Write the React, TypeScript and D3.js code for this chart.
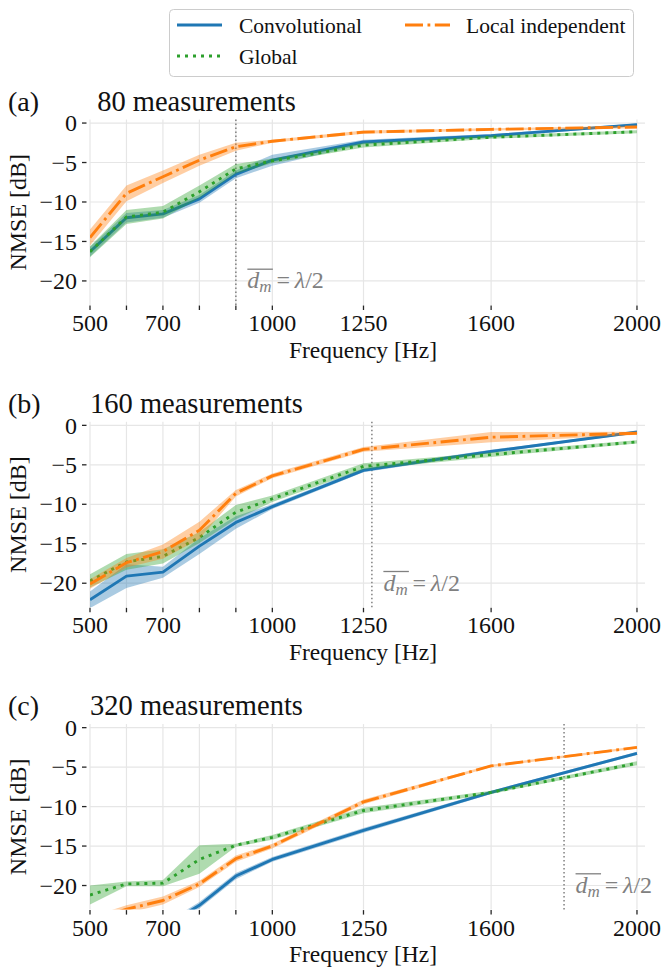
import React from "react";
import * as d3 from "d3";

const freqs = [500, 600, 700, 800, 900, 1000, 1250, 1600, 2000];
const xTickLabels = [500, 700, 1000, 1250, 1600, 2000];
const xMinorTicks = [600, 800, 900];
const yTicks = [0, -5, -10, -15, -20];
const panelLetters = ["(a)", "(b)", "(c)"];
const panelTitles = ["\u00a080 measurements", "160 measurements", "320 measurements"];
const halfWavelengthFreq = [900, 1273, 1800];

// Panel (a) 80 measurements
const convA = [-16.3, -12.0, -11.5, -9.6, -6.5, -4.7, -2.4, -1.6, -0.2];
const convAStd = [0.6, 0.6, 0.5, 0.5, 0.5, 0.7, 0.3, 0.2, 0.15];
const globA = [-16.3, -11.9, -11.3, -8.7, -5.8, -4.8, -2.8, -1.8, -1.1];
const globAStd = [0.7, 0.9, 0.8, 0.8, 0.6, 0.3, 0.3, 0.2, 0.2];
const localA = [-14.5, -8.9, -6.8, -4.7, -3.0, -2.3, -1.15, -0.8, -0.5];
const localAStd = [1.0, 1.0, 0.8, 0.7, 0.5, 0.2, 0.2, 0.15, 0.15];

// Panel (b) 160 measurements
const convB = [-22.1, -19.1, -18.6, -15.3, -12.3, -10.3, -5.7, -3.3, -0.85];
const convBStd = [1.05, 1.5, 0.7, 1.0, 0.8, 0.3, 0.25, 0.2, 0.15];
const globB = [-19.7, -17.3, -16.6, -14.2, -11.0, -9.3, -5.2, -3.7, -2.1];
const globBStd = [0.85, 1.0, 0.9, 0.7, 0.9, 0.4, 0.4, 0.3, 0.2];
const localB = [-20.1, -17.4, -16.0, -13.3, -8.6, -6.4, -3.05, -1.5, -1.0];
const localBStd = [0.6, 0.6, 0.9, 1.1, 0.4, 0.3, 0.3, 0.65, 0.2];

// Panel (c) 320 measurements
const convC = [-28.5, -27.0, -25.3, -22.5, -18.8, -16.7, -13.0, -8.2, -3.25];
const convCStd = [0.4, 0.4, 0.4, 0.4, 0.4, 0.3, 0.3, 0.2, 0.2];
const globC = [-21.2, -19.8, -19.7, -16.7, -14.9, -13.9, -10.5, -8.2, -4.5];
const globCStd = [1.2, 0.3, 0.4, 1.8, 0.2, 0.3, 0.35, 0.2, 0.25];
const localC = [-24.5, -23.0, -21.9, -19.8, -16.6, -15.0, -9.4, -4.85, -2.5];
const localCStd = [0.5, 0.5, 0.5, 0.4, 0.4, 0.3, 0.3, 0.15, 0.15];

const seriesNames = ["Convolutional", "Global", "Local independent"];
const seriesColors = ["#1f77b4", "#2ca02c", "#ff7f0e"];
const seriesDash = ["none", "3 5", "18 4.5 2.8 4.5"];

const panels = [
  [[convA, convAStd], [globA, globAStd], [localA, localAStd]],
  [[convB, convBStd], [globB, globBStd], [localB, localBStd]],
  [[convC, convCStd], [globC, globCStd], [localC, localCStd]],
];

const FONT = "'Liberation Serif', 'Times New Roman', Times, serif";
const LEFT = 90;
const RIGHT = 645;
const AX_H = 185.5;
const TOPS = [119.5, 421.8, 724.1];

const x = d3.scaleLinear().domain([500, 2022]).range([LEFT, RIGHT]);

function Panel({ idx }: { idx: number }) {
  const top = TOPS[idx];
  const bottom = top + AX_H;
  const y = d3.scaleLinear().domain([-23.05, 0.45]).range([bottom, top]);
  const line = d3
    .line<number>()
    .x((_, i) => x(freqs[i]))
    .y((d) => y(d));
  const area = (m: number[], s: number[]) =>
    d3
      .area<number>()
      .x((_, i) => x(freqs[i]))
      .y0((d, i) => y(d - s[i]))
      .y1((d, i) => y(d + s[i]))(m) as string;
  const clipId = `clip${idx}`;
  const dm = halfWavelengthFreq[idx];
  const annX = x(dm) + 11.5;
  const annY = top + 168.7;
  return (
    <g>
      <defs>
        <clipPath id={clipId}>
          <rect x={LEFT} y={top} width={RIGHT - LEFT} height={AX_H} />
        </clipPath>
      </defs>
      {/* grid */}
      {yTicks.map((t) => (
        <line key={"gy" + t} x1={LEFT} x2={RIGHT} y1={y(t)} y2={y(t)} stroke="#e6e6e6" strokeWidth={1.2} />
      ))}
      {freqs.map((f) => (
        <line key={"gx" + f} x1={x(f)} x2={x(f)} y1={top} y2={bottom} stroke="#e6e6e6" strokeWidth={1.2} />
      ))}
      {/* y ticks */}
      {yTicks.map((t) => (
        <g key={"yt" + t}>
          <line x1={82} x2={86.5} y1={y(t)} y2={y(t)} stroke="#262626" strokeWidth={1.3} />
          <text x={77} y={y(t)} dy="0.34em" textAnchor="end" fontSize={24} fontFamily={FONT} fill="#111">
            {t === 0 ? "0" : "\u2212" + Math.abs(t)}
          </text>
        </g>
      ))}
      {/* x ticks */}
      {[...xTickLabels, ...xMinorTicks].map((f) => (
        <line key={"xt" + f} x1={x(f)} x2={x(f)} y1={bottom + 0.5} y2={bottom + 5} stroke="#262626" strokeWidth={1.3} />
      ))}
      {xTickLabels.map((f) => (
        <text key={"xl" + f} x={x(f)} y={bottom + 26} textAnchor="middle" fontSize={24} fontFamily={FONT} fill="#111">
          {f}
        </text>
      ))}
      <text x={363} y={bottom + 52.5} textAnchor="middle" fontSize={23.5} fontFamily={FONT} fill="#111">
        Frequency [Hz]
      </text>
      <text
        transform={`translate(26,${(top + bottom) / 2}) rotate(-90)`}
        textAnchor="middle"
        fontSize={24}
        fontFamily={FONT}
        fill="#111"
      >
        NMSE [dB]
      </text>
      {/* titles */}
      <text x={8} y={top - 9} fontSize={28} fontFamily={FONT} fill="#111">
        {panelLetters[idx]}
      </text>
      <text x={LEFT} y={top - 9} fontSize={28.5} fontFamily={FONT} fill="#111">
        {panelTitles[idx]}
      </text>
      {/* dm line */}
      <line x1={x(dm)} x2={x(dm)} y1={top} y2={bottom} stroke="#808080" strokeWidth={1.5} strokeDasharray="1.5 2.5" />
      {/* series */}
      <g clipPath={`url(#${clipId})`}>
        {panels[idx].map(([m, s], k) => (
          <g key={"s" + k}>
            <path d={area(m, s)} fill={seriesColors[k]} fillOpacity={0.38} stroke="none" />
            <path
              d={line(m) as string}
              fill="none"
              stroke={seriesColors[k]}
              strokeWidth={2.9}
              strokeDasharray={seriesDash[k]}
              strokeLinejoin="round"
            />
          </g>
        ))}
      </g>
      {/* annotation */}
      <line x1={annX} x2={annX + 25.5} y1={annY - 19} y2={annY - 19} stroke="#808080" strokeWidth={1.3} />
      <text x={annX} y={annY} fontSize={24} fontFamily={FONT} fill="#808080">
        <tspan fontStyle="italic">d</tspan>
        <tspan fontStyle="italic" fontSize={17} dy={4}>m</tspan>
        <tspan dy={-4}>{"\u2009=\u2009"}</tspan>
        <tspan fontStyle="italic">λ</tspan>
        <tspan>/2</tspan>
      </text>
    </g>
  );
}

function Legend() {
  const rows = [
    { k: 0, hx: 177, tx: 239, y: 25 },
    { k: 1, hx: 177, tx: 239, y: 56 },
    { k: 2, hx: 405, tx: 466, y: 25 },
  ];
  return (
    <g>
      <rect x={169.5} y={9.5} width={464} height={67} rx={4} fill="white" fillOpacity={0.8} stroke="#cccccc" strokeWidth={1} />
      {rows.map((r) => (
        <g key={r.k}>
          <line
            x1={r.hx}
            x2={r.hx + 45}
            y1={r.y}
            y2={r.y}
            stroke={seriesColors[r.k]}
            strokeWidth={2.9}
            strokeDasharray={seriesDash[r.k]}
          />
          <text x={r.tx} y={r.y + 8} fontSize={21.5} fontFamily={FONT} fill="#111">
            {seriesNames[r.k]}
          </text>
        </g>
      ))}
    </g>
  );
}

export default function App() {
  return (
    <div style={{ position: "absolute", left: 0, top: 0 }}>
      <svg width={663} height={969} style={{ display: "block", background: "white" }}>
        {[0, 1, 2].map((i) => (
          <Panel key={i} idx={i} />
        ))}
        <Legend />
      </svg>
    </div>
  );
}
